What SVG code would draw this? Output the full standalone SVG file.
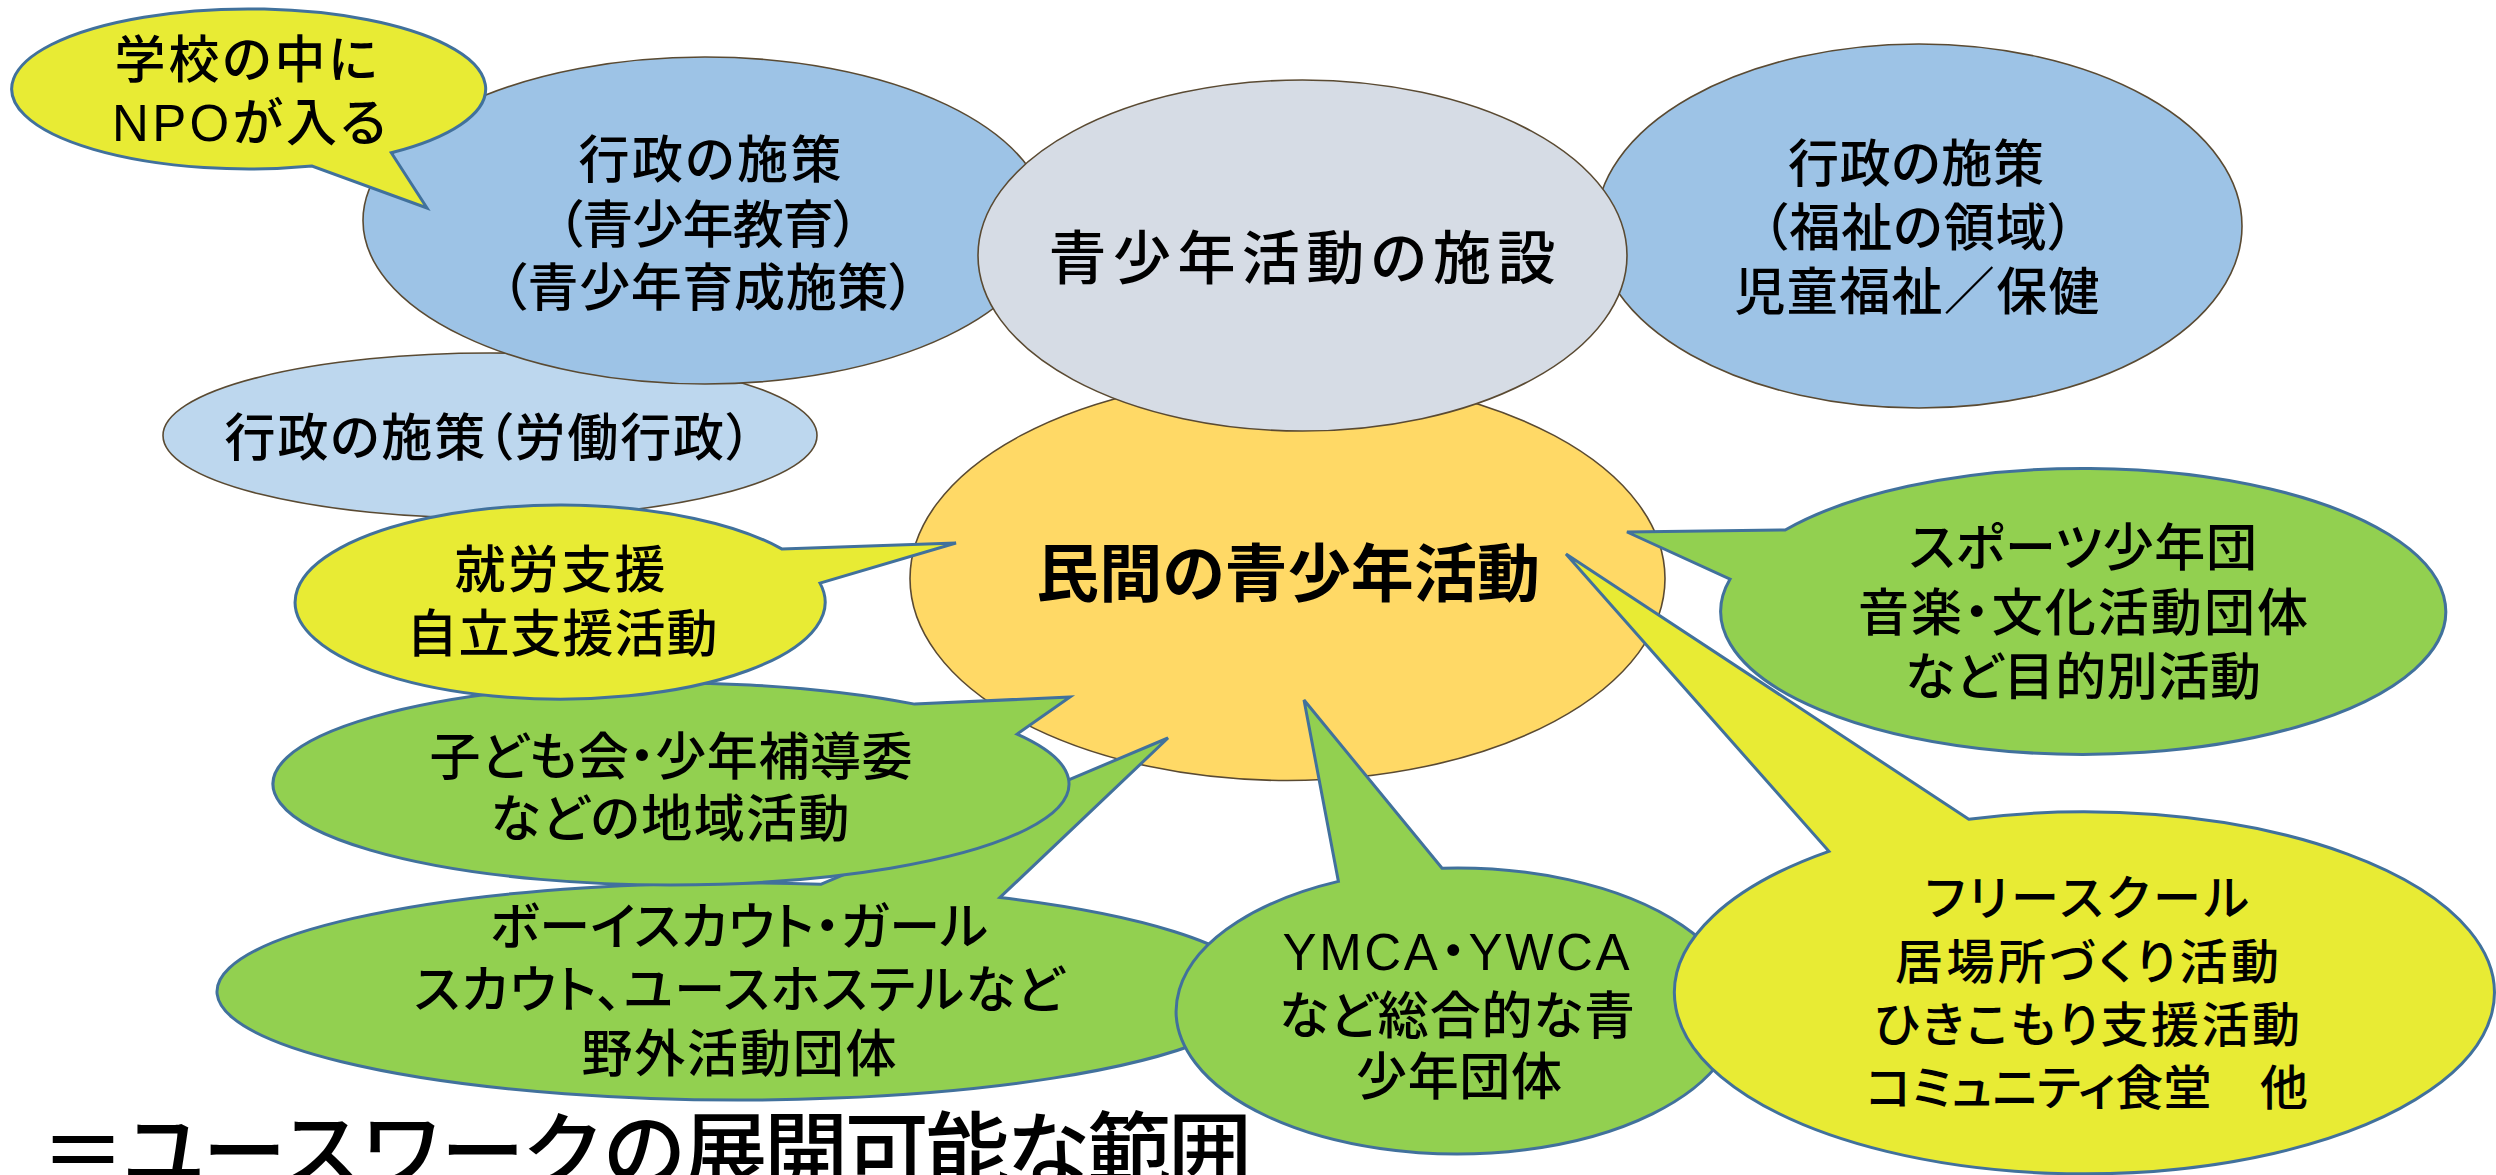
<svg xmlns="http://www.w3.org/2000/svg" width="2496" height="1175" viewBox="0 0 2496 1175">
<style>
.e { stroke: #5A4A32; stroke-width: 1.6; }
.c { stroke: #41719C; stroke-width: 3; stroke-linejoin: miter; }
.blue { fill: #9DC3E6; }
.lblue { fill: #BDD7EE; }
.gray { fill: #D6DCE5; }
.orange { fill: #FFD966; }
.green { fill: #92D050; }
.yellow { fill: #E8EB34; }
.t { font-family: "Liberation Sans", "Noto Sans CJK JP", sans-serif; font-size: 51px; font-weight: 500; fill: #000; text-anchor: middle; dominant-baseline: central; font-feature-settings: "palt"; }
.big { font-size: 58px; }
.bold { font-size: 63px; font-weight: bold; }
.small { font-size: 48px; }
.title { font-family: "Liberation Sans", "Noto Sans CJK JP", sans-serif; font-size: 84px; font-weight: 500; fill: #000; }
</style>
<rect width="2496" height="1175" fill="#FFFFFF"/>

<g id="node-rodo">
<ellipse class="e lblue" cx="490" cy="435.5" rx="327" ry="82.5"/>
<text class="t" x="488" y="438" textLength="527" lengthAdjust="spacing">行政の施策（労働行政）</text>
</g>

<g id="node-gyosei-seishonen">
<ellipse class="e blue" cx="705" cy="220.5" rx="342" ry="163.5"/>
<text class="t" x="710" y="160" textLength="263" lengthAdjust="spacing">行政の施策</text>
<text class="t" x="708" y="225" textLength="301" lengthAdjust="spacing">（青少年教育）</text>
<text class="t" x="708" y="288" textLength="413" lengthAdjust="spacing">（青少年育成施策）</text>
</g>

<g id="node-gyosei-fukushi">
<ellipse class="e blue" cx="1919" cy="226" rx="323" ry="182"/>
<text class="t" x="1916" y="164" textLength="256" lengthAdjust="spacing">行政の施策</text>
<text class="t" x="1918" y="228" textLength="311" lengthAdjust="spacing">（福祉の領域）</text>
<text class="t" x="1917" y="292" textLength="365" lengthAdjust="spacing">児童福祉／保健</text>
</g>

<g id="node-minkan">
<ellipse class="e orange" cx="1287.5" cy="578.5" rx="377.5" ry="202"/>
<text class="t bold" x="1288" y="574" textLength="504" lengthAdjust="spacing">民間の青少年活動</text>
</g>

<g id="node-shisetsu">
<ellipse class="e gray" cx="1302.5" cy="255.5" rx="324.5" ry="175.5"/>
<text class="t big" x="1302" y="258" textLength="507" lengthAdjust="spacing">青少年活動の施設</text>
</g>

<g id="connectors">
<g id="callout-gakko">
<path class="c yellow" d="M391.3,152.8 L427,208 L312,166 A237,80 0 1 1 391.3,152.8 Z"/>
<text class="t" x="246" y="60" textLength="263" lengthAdjust="spacing">学校の中に</text>
<text class="t" x="249" y="123" textLength="274" lengthAdjust="spacing">NPOが入る</text>
</g>
<g id="callout-boyscout">
<path class="c green" d="M820.7,884.3 L1168,738 L1000,897.5 A522,108.5 0 1 1 820.7,884.3 Z"/>
<text class="t" x="739" y="927" textLength="498" lengthAdjust="spacing">ボーイスカウト・ガール</text>
<text class="t" x="739" y="990" textLength="650" lengthAdjust="spacing">スカウト、ユースホステルなど</text>
<text class="t" x="739" y="1054" textLength="315" lengthAdjust="spacing">野外活動団体</text>
</g>
<g id="callout-ymca">
<path class="c green" d="M1442.1,868.2 L1304,700 L1338.4,881.4 A281,143 0 1 0 1442.1,868.2 Z"/>
<text class="t" x="1456" y="952" textLength="347" lengthAdjust="spacing">YMCA・YWCA</text>
<text class="t" x="1457" y="1016" textLength="356" lengthAdjust="spacing">など総合的な青</text>
<text class="t" x="1459" y="1077" textLength="206" lengthAdjust="spacing">少年団体</text>
</g>
<g id="callout-kodomokai">
<path class="c green" d="M914.6,704.1 L1070,697 L1017.1,734.1 A398,101 0 1 1 914.6,704.1 Z"/>
<text class="t" x="671" y="757" textLength="483" lengthAdjust="spacing">子ども会・少年補導委</text>
<text class="t" x="670" y="819" textLength="359" lengthAdjust="spacing">などの地域活動</text>
</g>
<g id="callout-shuro">
<path class="c yellow" d="M781.7,548.9 L956,543 L820,583.1 A265,97 0 1 1 781.7,548.9 Z"/>
<text class="t" x="560" y="570" textLength="211" lengthAdjust="spacing">就労支援</text>
<text class="t" x="562" y="634" textLength="311" lengthAdjust="spacing">自立支援活動</text>
</g>
<g id="callout-sports">
<path class="c green" d="M1785.2,530 L1627,532 L1730.1,579.1 A362.5,143 0 1 0 1785.2,530 Z"/>
<text class="t" x="2083" y="548" textLength="348" lengthAdjust="spacing">スポーツ少年団</text>
<text class="t" x="2083" y="613" textLength="450" lengthAdjust="spacing">音楽・文化活動団体</text>
<text class="t" x="2083" y="677" textLength="356" lengthAdjust="spacing">など目的別活動</text>
</g>
<g id="callout-free">
<path class="c yellow" d="M1968.8,819.2 L1566,554 L1828.9,851.3 A410,181 0 1 0 1968.8,819.2 Z"/>
<text class="t small" x="2087" y="898" textLength="324" lengthAdjust="spacing">フリースクール</text>
<text class="t small" x="2087" y="962" textLength="384" lengthAdjust="spacing">居場所づくり活動</text>
<text class="t small" x="2087" y="1025" textLength="426" lengthAdjust="spacing">ひきこもり支援活動</text>
<text class="t small" x="2087" y="1088" textLength="442" lengthAdjust="spacing">コミュニティ食堂　他</text>
</g>
</g>

<g id="caption">
<text class="title" x="41" y="1182" textLength="1211" lengthAdjust="spacing">＝ユースワークの展開可能な範囲</text>
</g>
</svg>
